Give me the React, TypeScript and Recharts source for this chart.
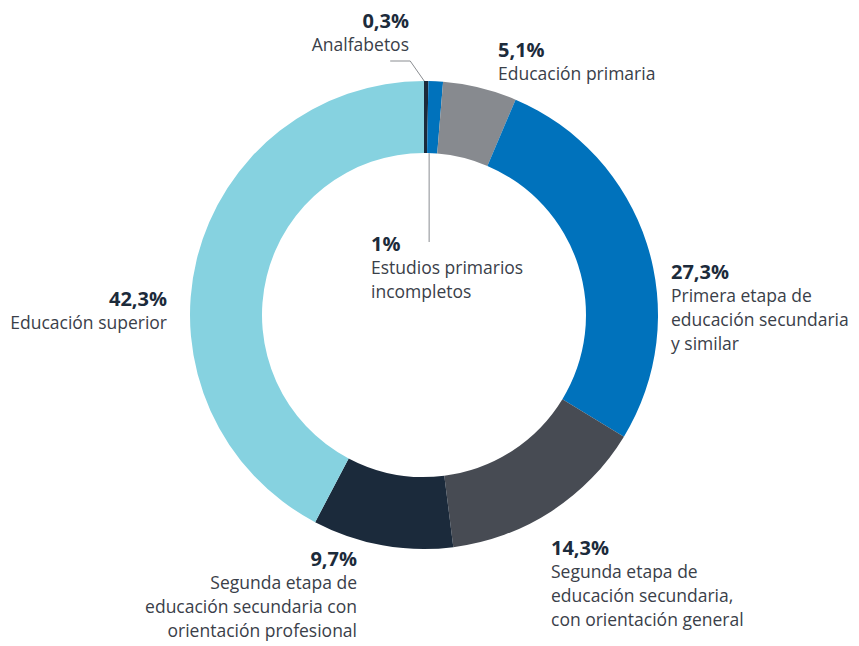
import React from 'react'
import { PieChart, Pie, Cell } from 'recharts'

const categories = [
  'Analfabetos',
  'Estudios primarios incompletos',
  'Educación primaria',
  'Primera etapa de educación secundaria y similar',
  'Segunda etapa de educación secundaria, con orientación general',
  'Segunda etapa de educación secundaria con orientación profesional',
  'Educación superior',
]

const shares = [0.3, 1, 5.1, 27.3, 14.3, 9.7, 42.3]

const valueLabels = ['0,3%', '1%', '5,1%', '27,3%', '14,3%', '9,7%', '42,3%']

const labelLines = [
  ['Analfabetos'],
  ['Estudios primarios', 'incompletos'],
  ['Educación primaria'],
  ['Primera etapa de', 'educación secundaria', 'y similar'],
  ['Segunda etapa de', 'educación secundaria,', 'con orientación general'],
  ['Segunda etapa de', 'educación secundaria con', 'orientación profesional'],
  ['Educación superior'],
]

const colors = ['#1b2a3b', '#0072bc', '#878a8f', '#0072bc', '#474b53', '#1b2a3b', '#86d2e0']

// where each text block sits (x, baseline of the bold figure, anchor)
const labelLayout = [
  { x: 409, y: 28, anchor: 'end' },
  { x: 371, y: 251, anchor: 'start' },
  { x: 498, y: 57, anchor: 'start' },
  { x: 671, y: 279, anchor: 'start' },
  { x: 551, y: 555, anchor: 'start' },
  { x: 357, y: 566, anchor: 'end' },
  { x: 167, y: 306, anchor: 'end' },
]

const data = categories.map((name, i) => ({ name, value: shares[i] }))

const RAD = Math.PI / 180
const FONT = '"Open Sans", sans-serif'

if (typeof document !== 'undefined') {
  document.body.style.margin = '0'
  document.body.style.overflow = 'hidden'
}

const renderLabel = (props: any) => {
  const { index, cx, cy, midAngle, innerRadius, outerRadius } = props
  const pos = labelLayout[index]
  const lines = labelLines[index]
  let leader = null
  if (index === 0) {
    const sx = cx + outerRadius * Math.cos(-midAngle * RAD) - 2
    const sy = cy + outerRadius * Math.sin(-midAngle * RAD)
    leader = <polyline points={`${sx},${sy} ${sx - 14},${sy - 20} ${sx - 34},${sy - 20}`} fill="none" stroke="#8a8d91" strokeWidth={1} />
  } else if (index === 1) {
    const sx = cx + innerRadius * Math.cos(-midAngle * RAD) - 3
    const sy = cy + innerRadius * Math.sin(-midAngle * RAD)
    leader = <line x1={sx} y1={sy} x2={sx} y2={242} stroke="#8a8d91" strokeWidth={1} />
  }
  return (
    <g key={`lbl-${index}`}>
      {leader}
      <text x={pos.x} y={pos.y} textAnchor={pos.anchor as any} fontFamily={FONT} fontSize={20} fontWeight={700} fill="#1c2b3b">
        {valueLabels[index]}
      </text>
      {lines.map((t, j) => (
        <text key={j} x={pos.x} y={pos.y + 23 + 24 * j} textAnchor={pos.anchor as any} fontFamily={FONT} fontSize={17.5} fill="#3a4049">
          {t}
        </text>
      ))}
    </g>
  )
}

export default function App() {
  return (
    <div style={{ width: 859, height: 646, background: '#fff' }}>
      <PieChart width={859} height={646} margin={{ top: 0, right: 0, bottom: 0, left: 0 }}>
        <Pie
          data={data}
          dataKey="value"
          nameKey="name"
          cx={424}
          cy={315}
          innerRadius={162}
          outerRadius={234}
          startAngle={90}
          endAngle={-270}
          stroke="none"
          label={renderLabel}
          labelLine={false}
          isAnimationActive={false}
        >
          {data.map((d, i) => (
            <Cell key={d.name} fill={colors[i]} />
          ))}
        </Pie>
      </PieChart>
    </div>
  )
}
